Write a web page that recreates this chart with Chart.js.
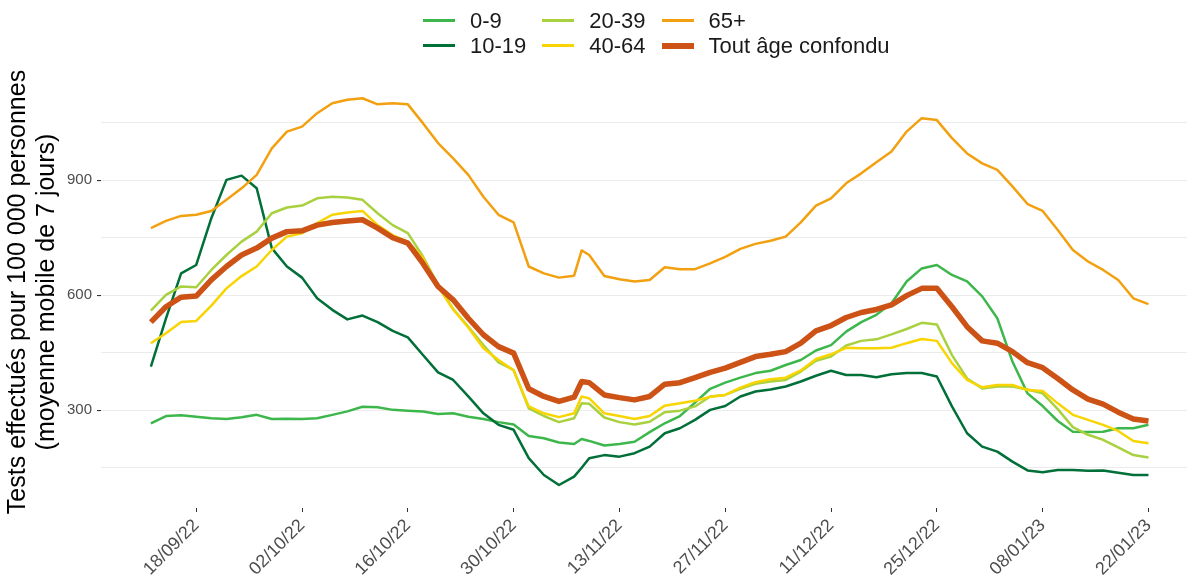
<!DOCTYPE html>
<html>
<head>
<meta charset="utf-8">
<script src="https://cdn.jsdelivr.net/npm/chart.js@4"></script>
<style>
  body { margin: 0; background: #fff; font-family: "Liberation Sans", Arial, sans-serif; }
  #wrap { position: relative; width: 1187px; height: 583px; }
  #legend {
    position: absolute; left: 423px; top: 8px;
    display: grid; grid-template-columns: auto auto auto; grid-auto-flow: column;
    grid-template-rows: 25px 25px; column-gap: 16px;
    font-size: 22px; color: #1a1a1a;
  }
  .item { display: flex; align-items: center; }
  .swatch { width: 32px; margin-right: 15px; }
</style>
</head>
<body>
<div id="wrap">
  <canvas id="chart" width="1187" height="583"></canvas>
  <div id="legend"></div>
</div>
<script>
// days since 12/09/22
const DAYS = [0, 2, 4, 6, 8, 10, 12, 14, 16, 18, 20, 22, 24, 26, 28, 30, 32,
  34, 36, 38, 40, 42, 44, 46, 48, 50, 52, 54, 56, 57, 58, 60, 62, 64, 66,
  68, 70, 72, 74, 76, 78, 80, 82, 84, 86, 88, 90, 92, 94, 96, 98,
  100, 102, 104, 106, 108, 110, 112, 114, 116, 118, 120, 122, 124, 126, 128, 130, 132];

const TICK_DAYS = [6, 20, 34, 48, 62, 76, 90, 104, 118, 132];
const TICK_LABELS = ["18/09/22", "02/10/22", "16/10/22", "30/10/22", "13/11/22",
  "27/11/22", "11/12/22", "25/12/22", "08/01/23", "22/01/23"];

const AGE_0_9 = [266, 285, 287, 283, 279, 277, 282, 288, 277, 278, 277, 279, 288, 297, 309, 308, 301,
  299, 297, 290, 292, 283, 277, 269, 263, 233, 227, 216, 212, 225, 220, 208, 212, 218, 243,
  266, 285, 320, 356, 372, 385, 397, 403, 418, 431, 456, 470, 505, 530, 549, 579,
  636, 670, 679, 653, 636, 597, 540, 427, 344, 311, 272, 244, 243, 244, 253, 253, 262];

const AGE_10_19 = [414, 540, 657, 679, 801, 901, 912, 879, 723, 675, 646, 592, 562, 537, 547, 530, 507,
  490, 444, 399, 379, 336, 292, 262, 249, 175, 131, 105, 127, 150, 175, 183, 179, 188, 205,
  240, 253, 275, 301, 311, 336, 349, 354, 362, 375, 390, 403, 392, 392, 386, 394,
  397, 397, 388, 310, 240, 205, 192, 166, 143, 138, 144, 144, 142, 143, 137, 131, 131];

const AGE_20_39 = [560, 601, 623, 621, 666, 705, 740, 766, 814, 829, 834, 853, 857, 855, 849, 814, 783,
  762, 701, 627, 564, 518, 470, 425, 405, 305, 285, 269, 279, 318, 317, 281, 269, 263, 270,
  295, 299, 310, 336, 340, 356, 369, 375, 379, 401, 429, 440, 469, 481, 485, 498,
  512, 528, 524, 444, 383, 357, 362, 362, 354, 344, 303, 256, 236, 223, 203, 183, 177];

const AGE_40_64 = [475, 501, 530, 533, 573, 618, 650, 675, 718, 753, 762, 788, 810, 816, 820, 783, 757,
  740, 697, 623, 563, 516, 462, 431, 404, 310, 292, 282, 292, 336, 331, 292, 285, 277, 285,
  312, 318, 325, 335, 340, 359, 373, 381, 385, 404, 434, 446, 463, 462, 462, 463,
  475, 486, 481, 423, 379, 360, 366, 366, 353, 350, 318, 288, 275, 262, 246, 220, 214];

const AGE_65 = [775, 794, 807, 810, 820, 849, 879, 914, 983, 1027, 1040, 1075, 1101, 1110, 1114, 1098, 1101,
  1098, 1049, 997, 957, 914, 857, 810, 790, 675, 657, 646, 651, 717, 705, 650, 642, 636, 640,
  673, 668, 668, 683, 700, 721, 734, 742, 753, 790, 834, 853, 892, 918, 947, 975,
  1027, 1062, 1057, 1010, 970, 944, 927, 884, 838, 820, 770, 718, 688, 666, 640, 592, 577];

const ALL_AGES = [530, 570, 595, 598, 640, 675, 705, 723, 749, 766, 768, 783, 790, 794, 797, 775, 750,
  736, 683, 623, 588, 540, 497, 466, 449, 356, 336, 323, 334, 375, 372, 340, 333, 327, 336,
  368, 372, 385, 399, 410, 425, 440, 446, 453, 475, 507, 521, 542, 555, 563, 575,
  599, 618, 618, 570, 518, 481, 475, 453, 424, 411, 383, 353, 329, 316, 295, 277, 272];

const SERIES = [
  { label: "0-9", values: AGE_0_9, color: "#3db74c", width: 2.5 },
  { label: "10-19", values: AGE_10_19, color: "#006f38", width: 2.5 },
  { label: "20-39", values: AGE_20_39, color: "#a9d13f", width: 2.5 },
  { label: "40-64", values: AGE_40_64, color: "#f8d400", width: 2.5 },
  { label: "65+", values: AGE_65, color: "#f3a010", width: 2.5 },
  { label: "Tout âge confondu", values: ALL_AGES, color: "#cc5216", width: 5.5 }
];

const datasets = SERIES.map((s, i) => ({
  label: s.label,
  data: DAYS.map((d, j) => ({ x: d, y: s.values[j] })),
  borderColor: s.color,
  backgroundColor: s.color,
  borderWidth: s.width,
  pointRadius: 0,
  tension: 0,
  borderJoinStyle: "round",
  order: i === SERIES.length - 1 ? 0 : SERIES.length - i
}));

// legend, laid out in columns like the original
const legend = document.getElementById("legend");
SERIES.forEach((s) => {
  const item = document.createElement("div");
  item.className = "item";
  item.innerHTML = `<span class="swatch" style="height:${s.width > 3 ? 6 : 3}px;background:${s.color}"></span><span>${s.label}</span>`;
  legend.appendChild(item);
});

const ctx = document.getElementById("chart").getContext("2d");

new Chart(ctx, {
  type: "line",
  data: { datasets },
  options: {
    responsive: false,
    animation: false,
    layout: { padding: { top: 76, right: 0, left: 0, bottom: 0 } },
    plugins: { legend: { display: false }, tooltip: { enabled: false } },
    scales: {
      x: {
        type: "linear",
        min: -6.6,
        max: 137.1,
        afterBuildTicks: (scale) => {
          scale.ticks = TICK_DAYS.map(v => ({ value: v }));
        },
        afterFit: (scale) => { scale.height = 75; },
        border: { display: false },
        grid: { drawOnChartArea: false, drawTicks: true, tickLength: 4, color: "#333333" },
        ticks: {
          autoSkip: false,
          minRotation: 45,
          maxRotation: 45,
          padding: 3,
          color: "#4d4d4d",
          font: { family: "'Liberation Sans', Arial, sans-serif", size: 18 },
          callback: (value) => TICK_LABELS[TICK_DAYS.indexOf(value)]
        }
      },
      y: {
        min: 45,
        max: 1172,
        afterBuildTicks: (scale) => {
          scale.ticks = [150, 300, 450, 600, 750, 900, 1050].map(v => ({ value: v }));
        },
        afterFit: (scale) => { scale.width = 101; },
        border: { display: false },
        grid: {
          color: "#ebebeb",
          lineWidth: 1.1,
          tickLength: 4,
          tickColor: (c) => (c.tick && c.tick.value % 300 === 0 ? "#333333" : "rgba(0,0,0,0)")
        },
        ticks: {
          padding: 5,
          color: "#4d4d4d",
          font: { family: "'Liberation Sans', Arial, sans-serif", size: 15 },
          callback: (value) => (value % 300 === 0 ? value : "")
        },
        title: {
          display: true,
          text: ["Tests effectués pour 100 000 personnes", "(moyenne mobile de 7 jours)"],
          color: "#000000",
          padding: { top: 4, bottom: 0 },
          font: { family: "'Liberation Sans', Arial, sans-serif", size: 25, lineHeight: 1.16 }
        }
      }
    }
  }
});
</script>
</body>
</html>
